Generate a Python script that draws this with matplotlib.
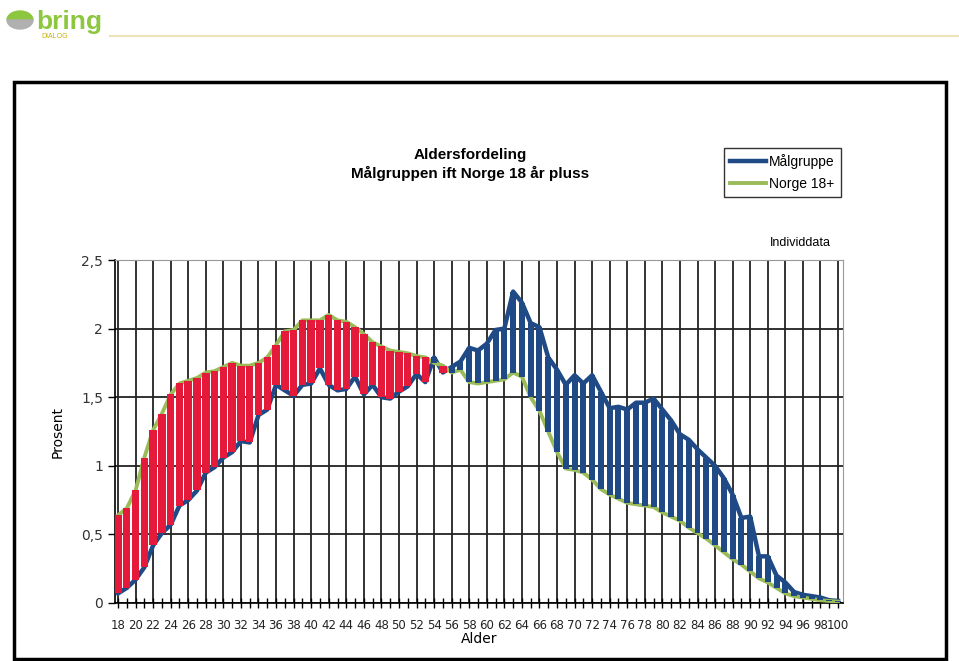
import matplotlib.pyplot as plt
import matplotlib.patches as mpatches
from matplotlib.ticker import MultipleLocator

# Alder 18-100
alder = list(range(18, 101))

malgruppe = [0.07, 0.11, 0.17, 0.26, 0.42, 0.51, 0.57, 0.71, 0.75, 0.82,
             0.95, 0.99, 1.06, 1.10, 1.18, 1.17, 1.37, 1.41, 1.59, 1.55,
             1.51, 1.59, 1.60, 1.71, 1.59, 1.55, 1.56, 1.65, 1.52, 1.59,
             1.50, 1.49, 1.54, 1.58, 1.67, 1.61, 1.79, 1.68, 1.72, 1.76,
             1.86, 1.84, 1.89, 1.99, 2.00, 2.27, 2.19, 2.04, 2.01, 1.79,
             1.70, 1.59, 1.66, 1.60, 1.66, 1.54, 1.42, 1.43, 1.41, 1.46,
             1.46, 1.49, 1.41, 1.33, 1.23, 1.19, 1.12, 1.06, 1.00, 0.91,
             0.79, 0.62, 0.63, 0.34, 0.34, 0.20, 0.15, 0.08, 0.06, 0.05,
             0.04, 0.02, 0.015]

norge = [0.64, 0.69, 0.82, 1.06, 1.26, 1.38, 1.52, 1.60, 1.62, 1.64,
         1.68, 1.69, 1.72, 1.75, 1.73, 1.73, 1.75, 1.79, 1.88, 1.98,
         1.99, 2.06, 2.06, 2.06, 2.10, 2.06, 2.05, 2.01, 1.96, 1.90,
         1.87, 1.84, 1.83, 1.82, 1.80, 1.79, 1.75, 1.73, 1.68, 1.70,
         1.61, 1.60, 1.61, 1.62, 1.63, 1.68, 1.65, 1.50, 1.40, 1.25,
         1.10, 0.98, 0.97, 0.95, 0.90, 0.83, 0.79, 0.76, 0.73, 0.72,
         0.71, 0.70, 0.66, 0.63, 0.60, 0.55, 0.51, 0.47, 0.42, 0.37,
         0.32, 0.28, 0.23, 0.18, 0.15, 0.11, 0.07, 0.05, 0.04, 0.03,
         0.02, 0.015, 0.01]

y_ticks = [0, 0.5, 1, 1.5, 2, 2.5]
y_labels = ['0', '0,5', '1', '1,5', '2', '2,5']

blaa = '#1F4A85'
gronn = '#9BBB59'
rod = '#E5193A'

plt.rcParams['font.family'] = ['Liberation Sans', 'DejaVu Sans']

fig = plt.figure(figsize=(9.59, 6.61), dpi=100)
ax = fig.add_axes([115 / 959, 58 / 661, 728 / 959, 343 / 661])

ax.plot(alder, malgruppe, color=blaa, lw=3.2, zorder=3, label='Målgruppe')
ax.plot(alder, norge, color=gronn, lw=2.8, zorder=3, label='Norge 18+')

# opp/ned-stolper mellom seriene
for a, m, n in zip(alder, malgruppe, norge):
    if n > m:
        ax.bar(a, n - m, bottom=m, width=0.85, color=rod, zorder=4)
    else:
        ax.bar(a, m - n, bottom=n, width=0.68, color=blaa, zorder=4)

ax.set_xlim(17.66, 100.57)
ax.set_ylim(0, 2.5)
ax.set_yticks(y_ticks)
ax.set_yticklabels(y_labels, fontsize=10, family='DejaVu Sans', color='#333333')
ax.xaxis.set_major_locator(MultipleLocator(2))
ax.xaxis.set_minor_locator(MultipleLocator(1))
ax.tick_params(axis='x', which='both', direction='inout', length=7, width=1, pad=8,
               labelsize=8.5)
ax.tick_params(axis='y', direction='out', length=5, width=1)
for lbl in ax.get_xticklabels():
    lbl.set_family('DejaVu Sans')
    lbl.set_color('#222222')

ax.grid(True, color='#222222', lw=1.3, zorder=1)
ax.set_axisbelow(True)
for s in ['top', 'right']:
    ax.spines[s].set_color('#999999')
for s in ['left', 'bottom']:
    ax.spines[s].set_color('black')
    ax.spines[s].set_linewidth(1.2)

ax.set_xlabel('Alder', fontsize=10, labelpad=0, family='DejaVu Sans')
ax.set_ylabel('Prosent', fontsize=10, labelpad=12, family='DejaVu Sans')

fig.text(470 / 959, 1 - 155 / 661, 'Aldersfordeling', ha='center', va='center',
         fontsize=11, fontweight='bold')
fig.text(470 / 959, 1 - 173 / 661, 'Målgruppen ift Norge 18 år pluss', ha='center',
         va='center', fontsize=11, fontweight='bold')
fig.text(800 / 959, 1 - 243 / 661, 'Individdata', ha='center', va='center', fontsize=9)

fig.legend(loc='upper left', bbox_to_anchor=(724 / 959, 1 - 148 / 661),
           fontsize=10, frameon=True, fancybox=False, edgecolor='black',
           handlelength=2.6, handletextpad=0.2, borderpad=0.45, labelspacing=0.55,
           borderaxespad=0)

# ramme rundt diagrammet
fig.patches.append(mpatches.Rectangle((14 / 959, 1 - 659 / 661), 932 / 959, 577 / 661,
                                      transform=fig.transFigure, fill=False,
                                      edgecolor='black', lw=2.5))

# logo
fig.patches.append(mpatches.Wedge((20 / 959, 1 - 20 / 661), 13 / 959, 0, 180,
                                  transform=fig.transFigure, color='#8DC63F'))
fig.patches.append(mpatches.Wedge((20 / 959, 1 - 20 / 661), 13 / 959, 180, 360,
                                  transform=fig.transFigure, color='#B0B0B0'))
fig.text(36 / 959, 1 - 22 / 661, 'bring', fontsize=19, fontweight='bold',
         color='#8DC63F', va='center', ha='left')
fig.text(41 / 959, 1 - 37 / 661, 'DIALOG', fontsize=5, color='#C8B400', va='center')
fig.add_artist(plt.Line2D([110 / 959, 958 / 959], [1 - 36 / 661, 1 - 36 / 661],
                          transform=fig.transFigure, color='#EDE3B8', lw=1.5))

plt.savefig('out.png', dpi=100)
